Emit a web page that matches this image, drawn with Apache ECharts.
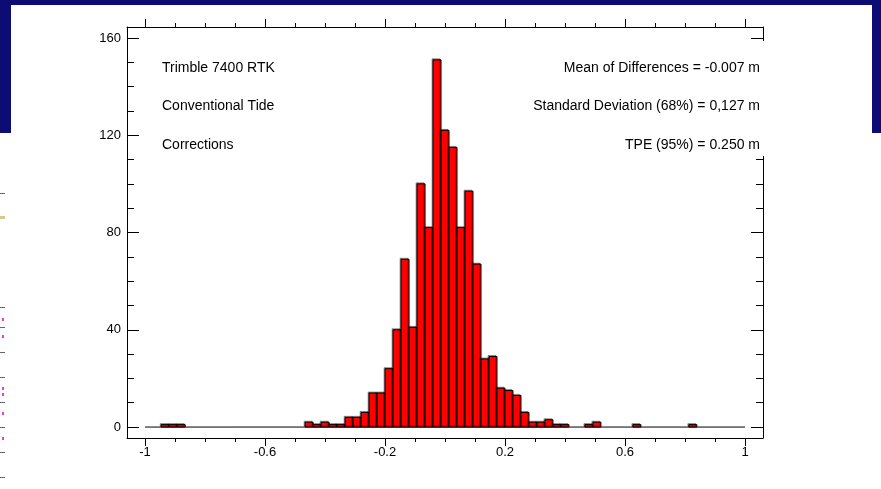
<!DOCTYPE html>
<html><head><meta charset="utf-8">
<script src="https://cdn.jsdelivr.net/npm/echarts@6/dist/echarts.min.js"></script>
<style>html,body{margin:0;padding:0;background:#fff}#c{width:881px;height:489px}</style>
</head><body><div id="c"></div>
<script>
// Histogram bins (left edge of first bin, bin width) and counts per bin
const binStart = -0.946;
const binWidth = 0.02665;
const counts = [
  1, 1, 1,
  0, 0, 0, 0, 0, 0, 0, 0, 0, 0, 0, 0, 0, 0, 0,
  2, 1, 2, 1, 1, 4, 4, 6, 14, 14, 24, 40, 69, 41, 100, 82, 151,
  122, 115, 82, 97, 67, 28, 29, 16, 15, 13, 6, 2, 2, 3, 1, 1,
  0, 0, 1, 2, 0, 0, 0, 0, 1, 0, 0, 0, 0, 0, 0, 1
];
const xLabelValues = [-1, -0.6, -0.2, 0.2, 0.6, 1];
const xMinorValues = [-0.9, -0.8, -0.7, -0.5, -0.4, -0.3, -0.1, 0, 0.1, 0.3, 0.4, 0.5, 0.7, 0.8, 0.9];
const yLabelValues = [0, 40, 80, 120, 160];
const yMinorValues = [10, 20, 30, 50, 60, 70, 90, 100, 110, 130, 140, 150];
const baseline = [[-1, 0], [1, 0]];
const leftNotes = ['Trimble 7400 RTK', 'Conventional Tide', 'Corrections'];
const rightNotes = ['Mean of Differences = -0.007 m', 'Standard Deviation (68%) = 0,127 m', 'TPE (95%) = 0.250 m'];

const FONT = 'Liberation Sans, Arial, sans-serif';
const barData = [];
counts.forEach((c, i) => {
  if (c > 0) {
    const x0 = binStart + i * binWidth;
    barData.push([x0, x0 + binWidth, c]);
  }
});

const chart = echarts.init(document.getElementById('c'), null, {renderer: 'canvas'});
const black = '#000';
function xAx(pos, ticks, len, showLine, labels) {
  return {
    type: 'value', position: pos, min: -1.06, max: 1.06,
    splitLine: {show: false},
    axisLine: {show: showLine, onZero: false, lineStyle: {color: black, width: 1}},
    axisTick: {show: true, inside: false, length: len, customValues: ticks, lineStyle: {color: black, width: 1}},
    axisLabel: labels ? {show: true, customValues: labels, margin: 8, color: black, fontSize: 13, fontFamily: FONT} : {show: false}
  };
}
function yAx(pos, ticks, len, showLine, labels) {
  return {
    type: 'value', position: pos, min: -4.5, max: 164.5,
    splitLine: {show: false},
    axisLine: {show: showLine, onZero: false, lineStyle: {color: black, width: 1}},
    axisTick: {show: true, inside: true, length: len, customValues: ticks, lineStyle: {color: black, width: 1}},
    axisLabel: labels ? {show: true, customValues: labels, margin: 6, color: black, fontSize: 13, fontFamily: FONT} : {show: false}
  };
}

const graphics = [
  {type: 'rect', z: 100, shape: {x: 0, y: 0, width: 881, height: 5}, style: {fill: '#0c0c74'}},
  {type: 'rect', z: 100, shape: {x: 0, y: 0, width: 11, height: 133}, style: {fill: '#0c0c74'}},
  {type: 'rect', z: 100, shape: {x: 872, y: 0, width: 9, height: 133}, style: {fill: '#0c0c74'}},
  {type: 'rect', z: 100, shape: {x: 500, y: 41, width: 268, height: 115}, style: {fill: '#fff'}}
];
// small leftover marks at the left edge of the slide
const greyMarks = [193, 307, 327, 352, 377, 402, 427, 452, 477];
greyMarks.forEach(y => graphics.push({type: 'rect', z: 100, shape: {x: 0, y: y, width: 5, height: 1}, style: {fill: '#666'}}));
const pinkMarks = [318, 335, 387, 393, 412, 437];
pinkMarks.forEach(y => graphics.push({type: 'rect', z: 100, shape: {x: 2, y: y, width: 2, height: 3}, style: {fill: '#e040e0'}}));
graphics.push({type: 'rect', z: 100, shape: {x: 0, y: 216, width: 5, height: 3}, style: {fill: '#d8c890'}});

const rowY = [68, 106, 145];
leftNotes.forEach((t, i) => graphics.push({type: 'text', z: 101, x: 162, y: rowY[i],
  style: {text: t, font: '14px ' + FONT, fill: black, textAlign: 'left', textVerticalAlign: 'middle'}}));
rightNotes.forEach((t, i) => graphics.push({type: 'text', z: 101, x: 760, y: rowY[i],
  style: {text: t, font: '14px ' + FONT, fill: black, textAlign: 'right', textVerticalAlign: 'middle'}}));

chart.setOption({
  animation: false,
  backgroundColor: '#fff',
  grid: {left: 127, right: 118, top: 27, bottom: 51, containLabel: false},
  xAxis: [
    xAx('bottom', xLabelValues, 8, true, xLabelValues),
    xAx('bottom', xMinorValues, 4, false, null),
    xAx('top', xLabelValues, 8, true, null),
    xAx('top', xMinorValues, 4, false, null)
  ],
  yAxis: [
    yAx('left', yLabelValues, 12, true, yLabelValues),
    yAx('left', yMinorValues, 7, false, null),
    yAx('right', yLabelValues, 12, true, null),
    yAx('right', yMinorValues, 7, false, null)
  ],
  series: [
    {type: 'line', data: baseline, xAxisIndex: 0, yAxisIndex: 0, symbol: 'none', z: 1,
      lineStyle: {color: black, width: 1}},
    {type: 'custom', xAxisIndex: 0, yAxisIndex: 0, z: 2, data: barData,
      encode: {x: [0, 1], y: 2},
      renderItem: function (params, api) {
        const p0 = api.coord([api.value(0), api.value(2)]);
        const p1 = api.coord([api.value(1), 0]);
        return {
          type: 'rect',
          shape: {x: p0[0], y: p0[1], width: p1[0] - p0[0], height: p1[1] - p0[1]},
          style: {fill: '#ff0000', stroke: '#000', lineWidth: 1,
            shadowColor: 'rgba(0,0,0,0.35)', shadowOffsetX: -1, shadowOffsetY: -1, shadowBlur: 0}
        };
      }
    }
  ],
  graphic: graphics
});
</script></body></html>
